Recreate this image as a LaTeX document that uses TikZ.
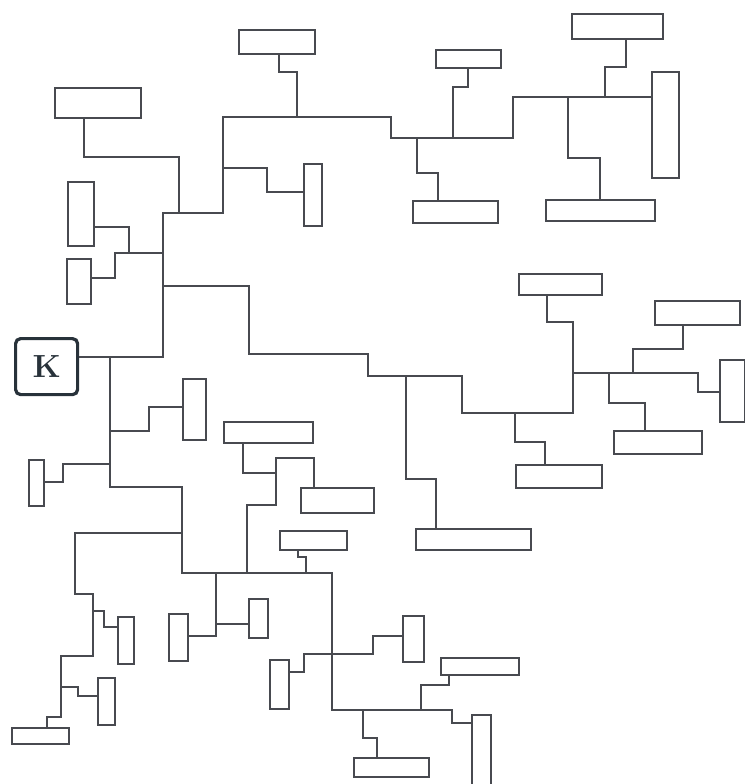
\documentclass[tikz,border=0pt]{standalone}
\definecolor{wirecol}{RGB}{72, 74, 80}
\definecolor{kframe}{RGB}{40, 50, 58}

\begin{document}
\begin{tikzpicture}[
  x=0.5pt, y=-0.5pt,
  line width=0.75pt, color=wirecol,
  cell/.style 2 args={draw=wirecol, line width=0.75pt, anchor=north west, inner sep=0pt, minimum width=#1*0.5pt, minimum height=#2*0.5pt},
  kbox/.style={draw=kframe, line width=1.6pt, rounded corners=2.5pt, anchor=north west, inner sep=0pt, minimum width=31pt, minimum height=28pt, font=\fontsize{16}{19}\selectfont\bfseries, text=kframe}
]
  \path[use as bounding box, fill=white] (0,0) rectangle (745,784);

  \node[kbox] (K) at (14,337) {K\hspace{5pt}};
  \node[cell={86}{30}] (b1) at (54,87) {};
  \node[cell={76}{24}] (b2) at (238,29) {};
  \node[cell={18}{62}] (b3) at (303,163) {};
  \node[cell={26}{64}] (b4) at (67,181) {};
  \node[cell={24}{45}] (b5) at (66,258) {};
  \node[cell={65}{18}] (b6) at (435,49) {};
  \node[cell={85}{22}] (b7) at (412,200) {};
  \node[cell={91}{25}] (b8) at (571,13) {};
  \node[cell={27}{106}] (b9) at (651,71) {};
  \node[cell={109}{21}] (b10) at (545,199) {};
  \node[cell={83}{21}] (b11) at (518,273) {};
  \node[cell={85}{24}] (b12) at (654,300) {};
  \node[cell={25}{62}] (b13) at (719,359) {};
  \node[cell={88}{23}] (b14) at (613,430) {};
  \node[cell={86}{23}] (b15) at (515,464) {};
  \node[cell={115}{21}] (b16) at (415,528) {};
  \node[cell={23}{61}] (b17) at (182,378) {};
  \node[cell={15}{46}] (b18) at (28,459) {};
  \node[cell={89}{21}] (b19) at (223,421) {};
  \node[cell={73}{25}] (b20) at (300,487) {};
  \node[cell={67}{19}] (b21) at (279,530) {};
  \node[cell={19}{47}] (b22) at (168,613) {};
  \node[cell={19}{39}] (b23) at (248,598) {};
  \node[cell={16}{47}] (b24) at (117,616) {};
  \node[cell={17}{47}] (b25) at (97,677) {};
  \node[cell={57}{16}] (b26) at (11,727) {};
  \node[cell={19}{49}] (b27) at (269,659) {};
  \node[cell={21}{46}] (b28) at (402,615) {};
  \node[cell={78}{17}] (b29) at (440,657) {};
  \node[cell={75}{19}] (b30) at (353,757) {};
  \node[cell={19}{100}] (b31) at (471,714) {};

  \coordinate (j1) at (110,357);
  \coordinate (j2) at (163,253);
  \coordinate (j3) at (129,253);
  \coordinate (j4) at (179,213);
  \coordinate (j5) at (223,168);
  \coordinate (j6) at (297,117);
  \coordinate (j7) at (417,138);
  \coordinate (j8) at (453,138);
  \coordinate (j9) at (568,97);
  \coordinate (j10) at (605,97);
  \coordinate (j11) at (163,286);
  \coordinate (j12) at (406,376);
  \coordinate (j13) at (515,413);
  \coordinate (j14) at (573,373);
  \coordinate (j15) at (609,373);
  \coordinate (j16) at (633,373);
  \coordinate (j17) at (110,431);
  \coordinate (j18) at (110,464);
  \coordinate (j19) at (182,533);
  \coordinate (j20) at (93,611);
  \coordinate (j21) at (61,687);
  \coordinate (j22) at (216,573);
  \coordinate (j23) at (216,624);
  \coordinate (j24) at (247,573);
  \coordinate (j25) at (276,473);
  \coordinate (j26) at (306,573);
  \coordinate (j27) at (332,654);
  \coordinate (j28) at (363,710);
  \coordinate (j29) at (421,710);

  \draw (K.east |- j1) -- (163,357) -- (163,213) -- (223,213) -- (223,117) -- (391,117) -- (391,138) -- (513,138) -- (513,97) -- (b9.west |- j9);
  \draw (j4) -- (179,157) -- (84,157) -- (84,157 |- b1.south);
  \draw (j2) -- (115,253) -- (115,278) -- (b5.east |- 0,278);
  \draw (j3) -- (129,227) -- (b4.east |- 0,227);
  \draw (j5) -- (267,168) -- (267,192) -- (b3.west |- 0,192);
  \draw (j6) -- (297,72) -- (279,72) -- (279,72 |- b2.south);
  \draw (j7) -- (417,173) -- (438,173) -- (438,173 |- b7.north);
  \draw (j8) -- (453,87) -- (468,87) -- (468,87 |- b6.south);
  \draw (j9) -- (568,158) -- (600,158) -- (600,158 |- b10.north);
  \draw (j10) -- (605,67) -- (626,67) -- (626,67 |- b8.south);

  \draw (j11) -- (249,286) -- (249,354) -- (368,354) -- (368,376) -- (462,376) -- (462,413) -- (573,413) -- (573,322) -- (547,322) -- (547,322 |- b11.south);
  \draw (j12) -- (406,479) -- (436,479) -- (436,479 |- b16.north);
  \draw (j13) -- (515,442) -- (545,442) -- (545,442 |- b15.north);
  \draw (j14) -- (698,373) -- (698,392) -- (b13.west |- 0,392);
  \draw (j15) -- (609,403) -- (645,403) -- (645,403 |- b14.north);
  \draw (j16) -- (633,349) -- (683,349) -- (683,349 |- b12.south);

  \draw (j1) -- (110,487) -- (182,487) -- (182,573) -- (332,573) -- (332,710) -- (452,710) -- (452,723) -- (b31.west |- 0,723);
  \draw (j17) -- (149,431) -- (149,407) -- (b17.west |- 0,407);
  \draw (j18) -- (63,464) -- (63,482) -- (b18.east |- 0,482);
  \draw (j19) -- (75,533) -- (75,594) -- (93,594) -- (93,656) -- (61,656) -- (61,717) -- (47,717) -- (47,717 |- b26.north);
  \draw (j20) -- (104,611) -- (104,627) -- (b24.west |- 0,627);
  \draw (j21) -- (78,687) -- (78,696) -- (b25.west |- 0,696);
  \draw (j22) -- (216,636) -- (b22.east |- 0,636);
  \draw (j23) -- (b23.west |- j23);
  \draw (j24) -- (247,505) -- (276,505) -- (276,458) -- (314,458) -- (314,458 |- b20.north);
  \draw (j25) -- (243,473) -- (243,473 |- b19.south);
  \draw (j26) -- (306,557) -- (298,557) -- (298,557 |- b21.south);
  \draw (j27) -- (304,654) -- (304,672) -- (b27.east |- 0,672);
  \draw (j27) -- (373,654) -- (373,636) -- (b28.west |- 0,636);
  \draw (j28) -- (363,738) -- (377,738) -- (377,738 |- b30.north);
  \draw (j29) -- (421,685) -- (449,685) -- (449,685 |- b29.south);
\end{tikzpicture}
\end{document}
